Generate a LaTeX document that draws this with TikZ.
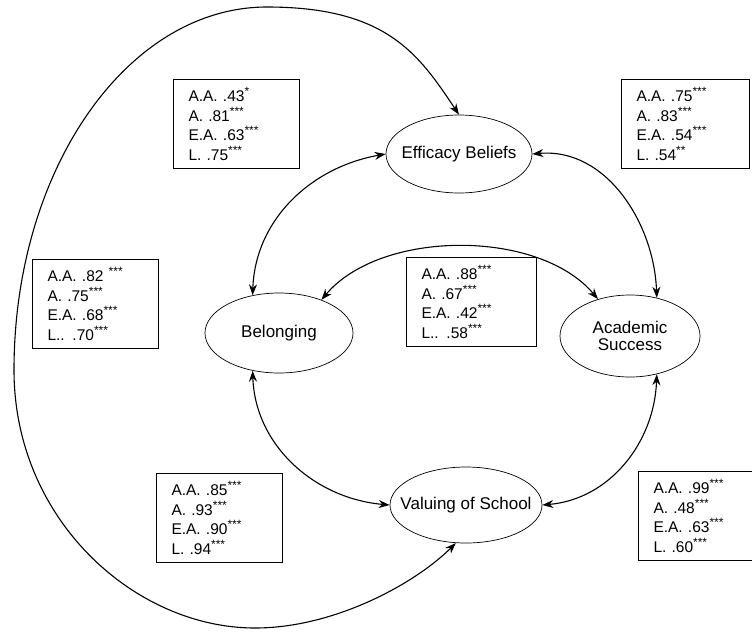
\documentclass[tikz,border=0pt]{standalone}
\usepackage{fontspec}
\setmainfont{Liberation Sans}
\usetikzlibrary{arrows.meta,positioning,shapes.geometric}
\newcommand\stars[1]{\raisebox{0.38em}{\fontsize{12}{12}\selectfont #1}}
\tikzset{
	box/.style={draw,rectangle,line width=1pt,align=left,anchor=north west,inner xsep=15pt,inner ysep=0pt,text width=96pt,minimum height=89pt,font=\fontsize{15.5}{19.5}\selectfont},
	factor/.style={draw,ellipse,line width=0.7pt,inner sep=0pt,align=center,font=\fontsize{17}{17}\selectfont},
	link/.style={{Stealth[length=11pt,width=8pt]}-{Stealth[length=11pt,width=8pt]},line width=1.1pt}
}
\begin{document}
\begin{tikzpicture}[x=1pt,y=-1pt]
	\useasboundingbox (0,0) rectangle (752,633);
	% factors
	\node[factor,minimum width=146pt,minimum height=78pt] (eff) at (459,154) {\makebox[0pt]{Efficacy Beliefs}};
	\node[factor,minimum width=148pt,minimum height=80pt] (bel) at (279,333) {\makebox[0pt]{Belonging}};
	\node[factor,minimum width=140pt,minimum height=82pt] (aca) at (630,336) {\makebox[0pt]{Academic}\\\makebox[0pt]{Success}};
	\node[factor,minimum width=152pt,minimum height=76pt] (val) at (466,505) {\makebox[0pt]{Valuing of School}};
	% coefficient boxes
	\node[box] (effbel) at (173,79) {A.A. .43\stars{*}\\A. .81\stars{***}\\E.A. .63\stars{***}\\L. .75\stars{***}};
	\node[box,text width=98pt] (effaca) at (621,79) {A.A. .75\stars{***}\\A. .83\stars{***}\\E.A. .54\stars{***}\\L. .54\stars{**}};
	\node[box] (effval) at (32,259) {A.A. .82 \stars{***}\\A. .75\stars{***}\\E.A. .68\stars{***}\\L.. .70\stars{***}};
	\node[box,text width=100pt] (belaca) at (406,257) {A.A. .88\stars{***}\\A. .67\stars{***}\\E.A. .42\stars{***}\\L.. .58\stars{***}};
	\node[box] (belval) at (156,473) {A.A. .85\stars{***}\\A. .93\stars{***}\\E.A. .90\stars{***}\\L. .94\stars{***}};
	\node[box] (acaval) at (638,471) {A.A. .99\stars{***}\\A. .48\stars{***}\\E.A. .63\stars{***}\\L. .60\stars{***}};
	% correlations
	\draw[link] (bel.125) to[out=88,in=190] (eff.180);
	\draw[link] (eff.0) to[out=5,in=92] (aca.55);
	\draw[link] (bel.38) to[out=50,in=130,looseness=0.85] (aca.131);
	\draw[link] (bel.235) to[out=-88,in=175] (val.180);
	\draw[link] (aca.-55) to[out=-92,in=5] (val.0);
	\coordinate (top) at (267,7);
	\coordinate (left) at (14,370);
	\coordinate (bottom) at (255,628);
	\draw[link] (eff.north) .. controls +(-40,-60) and +(120,0) .. (top)
		.. controls +(-140,0) and +(0,-200) .. (left)
		.. controls +(0,150) and +(-120,0) .. (bottom)
		.. controls +(80,0) and +(-40,40) .. (val.-105);
\end{tikzpicture}
\end{document}
